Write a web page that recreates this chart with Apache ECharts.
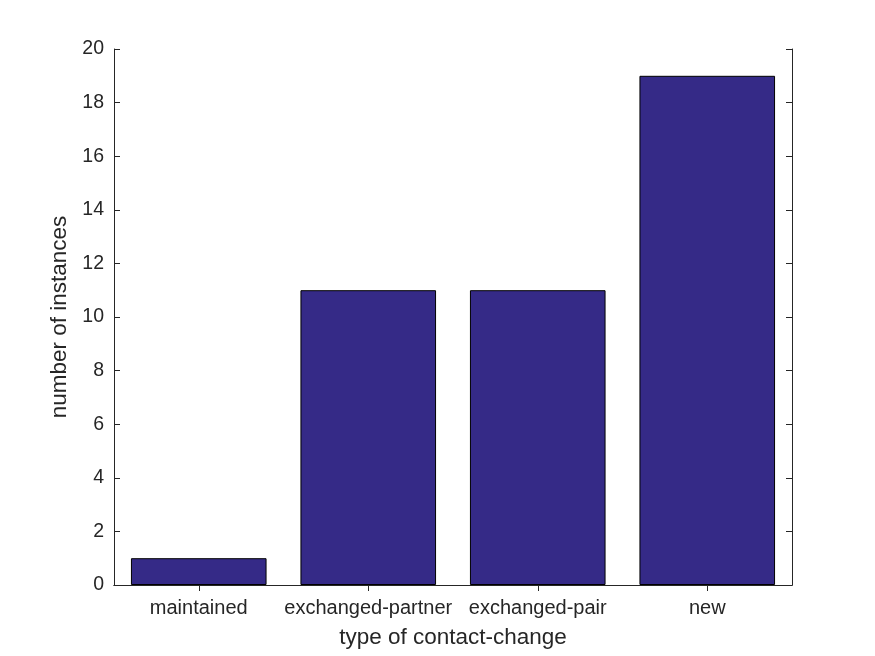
<!DOCTYPE html>
<html><head><meta charset="utf-8">
<script src="https://cdn.jsdelivr.net/npm/echarts@6/dist/echarts.min.js"></script>
<style>html,body{margin:0;padding:0;background:#fff}#c{width:875px;height:656px}</style>
</head><body><div id="c"></div>
<script>
const categories = ['maintained', 'exchanged-partner', 'exchanged-pair', 'new'];
const counts = [1, 11, 11, 19];
const yTicks = [0, 2, 4, 6, 8, 10, 12, 14, 16, 18, 20];

const chart = echarts.init(document.getElementById('c'), null, {renderer: 'canvas'});
const font = 'Liberation Sans, Arial, Helvetica, sans-serif';
const txt = '#262626';
const lineStyle = {color: '#262626', width: 1};
chart.setOption({
  animation: false,
  backgroundColor: '#fff',
  grid: {left: 114, right: 83, top: 49, bottom: 71, containLabel: false},
  xAxis: [{
    type: 'category', data: categories, position: 'bottom',
    axisLine: {show: true, lineStyle},
    axisTick: {show: true, inside: true, alignWithLabel: true, length: 6, lineStyle},
    axisLabel: {color: txt, fontFamily: font, fontSize: 20, margin: 13, interval: 0},
    name: 'type of contact-change', nameLocation: 'middle', nameGap: 41,
    nameTextStyle: {color: txt, fontFamily: font, fontSize: 22.5}
  }, {
    type: 'category', data: categories, position: 'top',
    axisLine: {show: true, lineStyle},
    axisTick: {show: true, inside: true, alignWithLabel: true, length: 6, lineStyle},
    axisLabel: {show: false}
  }],
  yAxis: [{
    type: 'value', min: yTicks[0], max: yTicks[yTicks.length - 1], interval: 2, position: 'left',
    axisLine: {show: true, lineStyle},
    axisTick: {show: true, inside: true, length: 6, lineStyle},
    axisLabel: {color: txt, fontFamily: font, fontSize: 19.5, margin: 10},
    splitLine: {show: false},
    name: 'number of instances', nameLocation: 'middle', nameGap: 33, nameRotate: 90,
    nameTextStyle: {color: txt, fontFamily: font, fontSize: 22.5}
  }, {
    type: 'value', min: yTicks[0], max: yTicks[yTicks.length - 1], interval: 2, position: 'right',
    axisLine: {show: true, lineStyle},
    axisTick: {show: true, inside: true, length: 6, lineStyle},
    axisLabel: {show: false}, splitLine: {show: false}
  }],
  series: [{
    type: 'bar', data: counts, xAxisIndex: 0, yAxisIndex: 0,
    barWidth: '80%',
    itemStyle: {color: '#352a87', borderColor: '#000', borderWidth: 1}
  }]
});
</script></body></html>
